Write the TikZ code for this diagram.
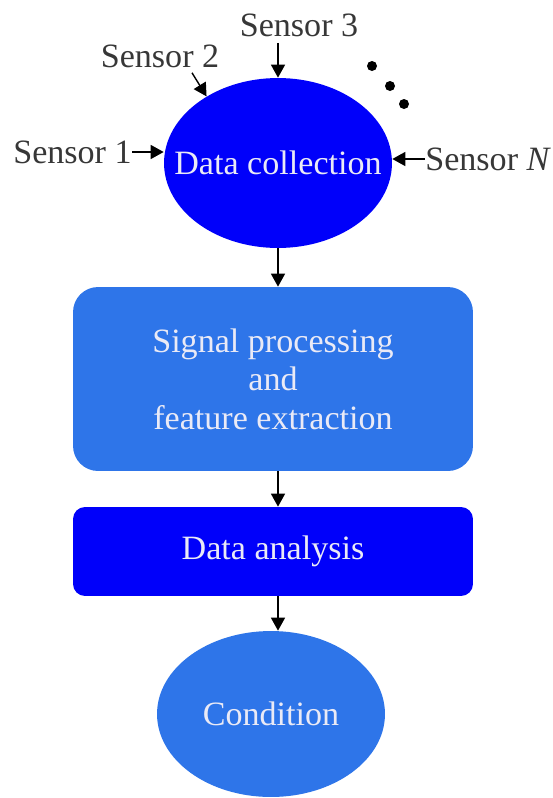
\documentclass[tikz,border=0pt]{standalone}
\usepackage{fontspec}
\setmainfont{Liberation Serif}
\usetikzlibrary{shapes.geometric,arrows.meta}
\definecolor{deepblue}{RGB}{0,0,250}
\definecolor{skyblue}{RGB}{46,117,233}
\definecolor{boxtext}{RGB}{234,234,246}
\definecolor{labeltext}{RGB}{55,55,55}
\begin{document}
\begin{tikzpicture}[x=0.02cm,y=-0.02cm,
  every node/.style={font=\fontsize{19.4}{21.9}\selectfont},
  flow/.style={-{Triangle[length=0.26cm,width=0.28cm]},line width=0.8pt},
  blob/.style={ellipse,minimum width=4.56cm,inner sep=0pt},
  panel/.style={rectangle,minimum width=8cm,inner sep=0pt,text=boxtext,align=center},
  sensor/.style={inner sep=0pt,text=labeltext}]
  \useasboundingbox (0,0) rectangle (552,798);

  % main chain
  \node[blob,minimum height=3.4cm,fill=deepblue,
        label={[text=boxtext]center:Data collection}] (collect) at (278,163) {};
  \node[panel,minimum height=3.68cm,rounded corners=0.5cm,fill=skyblue] (proc) at (273,379)
    {Signal processing\\and\\feature extraction};
  \node[panel,minimum height=1.78cm,rounded corners=0.24cm,fill=deepblue] (anal) at (273,551.5)
    {Data analysis};
  \node[blob,minimum height=3.32cm,fill=skyblue,
        label={[text=boxtext]center:Condition}] (cond) at (271,714) {};

  \draw[flow] (collect.south) -- (collect.south |- proc.north);
  \draw[flow] (proc.south -| collect) -- (anal.north -| collect);
  \draw[flow] (anal.south -| collect) -- (cond.north -| collect);

  % sensor inputs
  \node[sensor,anchor=east] (s1) at (132,152) {Sensor 1};
  \node[sensor] (s2) at (160,56) {Sensor 2};
  \node[sensor,inner ysep=0.12cm] (s3) at (299,25) {Sensor 3};
  \node[sensor,anchor=west] (sN) at (425,159) {Sensor \textit{N}};

  \draw[flow] (s1.east) -- (s1.east -| collect.west);
  \draw[flow] ([xshift=0.64cm,yshift=-0.1cm]s2.south) -- (collect.137);
  \draw[flow] (s3.south -| collect.north) -- (collect.north);
  \draw[flow] (sN.west) -- (sN.west -| collect.east);

  \foreach \px/\py in {372/66,390/86,404/104}
    \fill (\px,\py) circle[radius=0.1cm];
\end{tikzpicture}
\end{document}
